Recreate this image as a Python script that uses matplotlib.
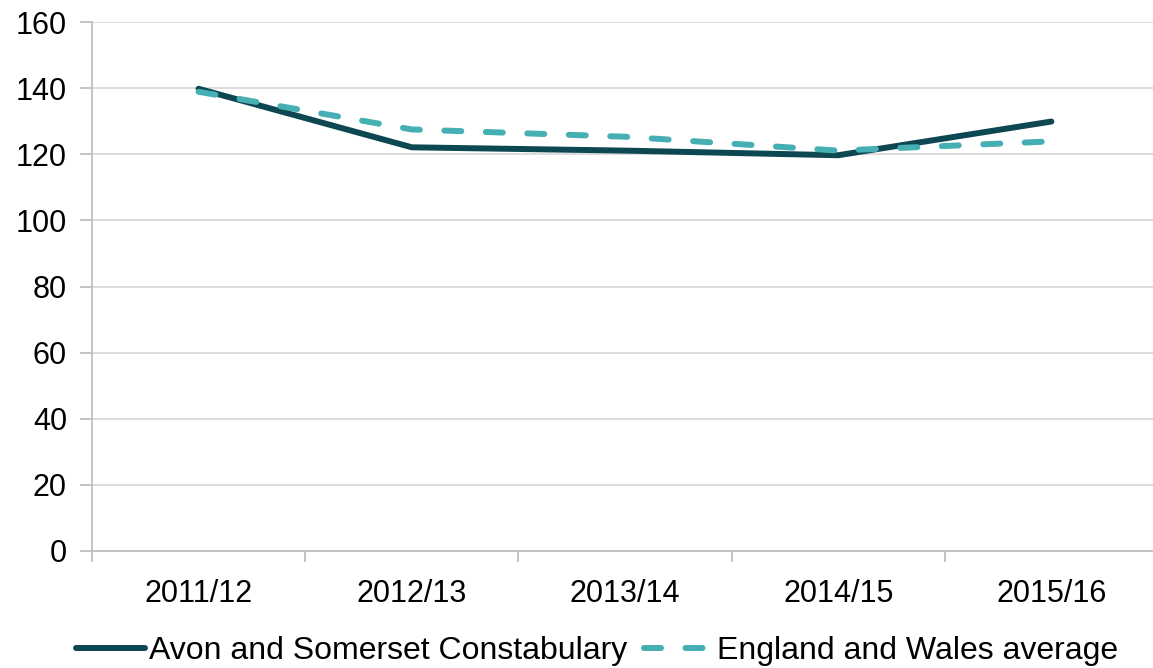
import matplotlib.pyplot as plt

years = ['2011/12', '2012/13', '2013/14', '2014/15', '2015/16']
avon = [139.8, 122.1, 121.1, 119.7, 129.9]
england = [138.9, 127.5, 125.3, 121.1, 123.9]

plt.rcParams['font.family'] = ['Liberation Sans', 'DejaVu Sans']

fig = plt.figure(figsize=(11.53, 6.68), dpi=100)
ax = fig.add_axes([92 / 1153, (668 - 551) / 668, (1158 - 92) / 1153, (551 - 22) / 668])

x = range(len(years))
ax.plot(x, avon, color='#0D4852', lw=4.3, solid_capstyle='round',
        label='Avon and Somerset Constabulary', zorder=3)
ax.plot(x, england, color='#45AFB3', lw=4.3, dashes=(2.85, 4.1),
        dash_capstyle='round', label='England and Wales average', zorder=3)

ax.set_xlim(-0.5, len(years) - 0.5)
ax.set_ylim(0, 160)
ax.set_yticks(range(0, 161, 20))
ax.yaxis.grid(True, color='#D9D9D9', lw=1.3)
ax.set_axisbelow(True)

# category labels between boundary ticks
ax.set_xticks([i - 0.5 for i in range(len(years) + 1)])
ax.set_xticklabels([])
ax.set_xticks(list(x), minor=True)
ax.set_xticklabels(years, minor=True, fontsize=22)
ax.tick_params(axis='x', which='minor', length=0, pad=20)
ax.tick_params(axis='x', which='major', length=8, color='#BFBFBF', width=1.3)
ax.tick_params(axis='y', length=9, color='#BFBFBF', width=1.3, labelsize=22, pad=9)

for s in ['top', 'right']:
    ax.spines[s].set_visible(False)
for s in ['left', 'bottom']:
    ax.spines[s].set_color('#BFBFBF')
    ax.spines[s].set_linewidth(1.3)

fig.legend(loc='center', bbox_to_anchor=(597 / 1153, 1 - 651 / 668), ncol=2,
           frameon=False, handlelength=2.15, handletextpad=0.15, columnspacing=0.5,
           prop={'size': 23})

fig.savefig('out.png', dpi=100)
